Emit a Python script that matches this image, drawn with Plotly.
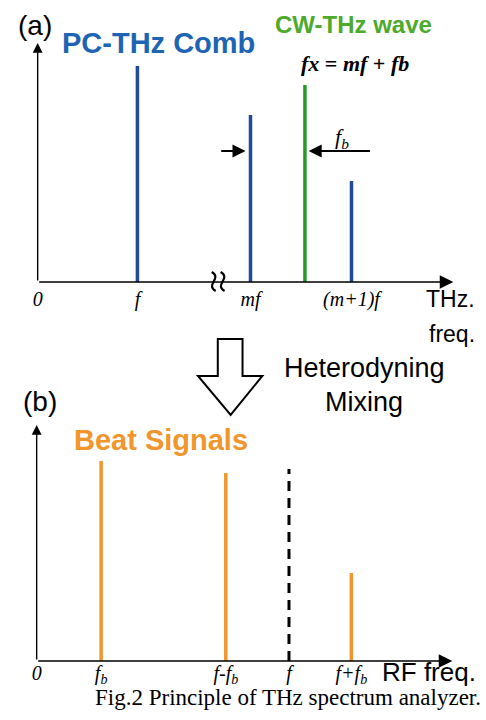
import plotly.graph_objects as go

W, H = 486, 720

# ---------------- data: panel (a) THz spectrum ----------------
comb_pos = [2.40, 5.12, 7.55]          # f, mf, (m+1)f
comb_amp = [9.04, 6.99, 4.23]
cw_pos = [6.43]                         # fx = mf + fb
cw_amp = [8.24]
a_tick_vals = [0, 2.40, 5.12, 7.55]
a_tick_text = ["<i>0</i>", "<i>f</i>", "<i>mf</i>", "<i>(m+1)f</i>"]
break_pos = 4.33

# ---------------- data: panel (b) RF beat spectrum ----------------
beat_pos = [1.55, 4.55, 7.57]          # fb, f-fb, f+fb
beat_amp = [8.47, 7.97, 3.73]
rep_pos = [6.07]                        # f (dashed)
rep_amp = [8.14]
b_tick_vals = [0, 1.55, 4.55, 6.07, 7.57]
b_tick_text = ["<i>0</i>", "<i>f<sub>b</sub></i>", "<i>f-f<sub>b</sub></i>",
               "<i>f</i>", "<i>f+f<sub>b</sub></i>"]

BLUE = "#23499b"
BLUE_TXT = "#1e64b4"
GREEN = "#1f9b2a"
GREEN_TXT = "#4daa2b"
ORANGE = "#f0962c"
SERIF = "Liberation Serif"
SANS = "Liberation Sans"

# panel geometry in pixels
A_X0, A_X1, A_Y0, A_Y1 = 33, 453, 282, 43
B_X0, B_X1, B_Y0, B_Y1 = 32, 452, 661, 425


def stems(xs, ys):
    X, Y = [], []
    for x, y in zip(xs, ys):
        X += [x, x, None]
        Y += [0, y, None]
    return X, Y


def px(x):
    return x / W


def py(y):
    return 1 - y / H


fig = go.Figure()
x, y = stems(comb_pos, comb_amp)
fig.add_trace(go.Scatter(x=x, y=y, mode="lines", line=dict(color=BLUE, width=3.5),
                         xaxis="x", yaxis="y", hoverinfo="skip"))
x, y = stems(cw_pos, cw_amp)
fig.add_trace(go.Scatter(x=x, y=y, mode="lines", line=dict(color=GREEN, width=3.5),
                         xaxis="x", yaxis="y", hoverinfo="skip"))
x, y = stems(beat_pos, beat_amp)
fig.add_trace(go.Scatter(x=x, y=y, mode="lines", line=dict(color=ORANGE, width=3.5),
                         xaxis="x2", yaxis="y2", hoverinfo="skip"))
x, y = stems(rep_pos, rep_amp)
fig.add_trace(go.Scatter(x=x, y=y, mode="lines", line=dict(color="black", width=3, dash="10px,7px"),
                         xaxis="x2", yaxis="y2", hoverinfo="skip"))

ann = []
# axes arrows
for xr, yr in (("x", "y"), ("x2", "y2")):
    ann.append(dict(x=10, y=0, ax=0, ay=0, xref=xr, yref=yr, axref=xr, ayref=yr,
                    text="", showarrow=True, arrowhead=2, arrowsize=1.7, arrowwidth=1.6,
                    arrowcolor="black"))
    ann.append(dict(x=0, y=10, ax=0, ay=0, xref=xr, yref=yr, axref=xr, ayref=yr,
                    text="", showarrow=True, arrowhead=2, arrowsize=1.4, arrowwidth=1.4,
                    arrowcolor="black"))
# fb arrows in panel (a)
arrow_y = 5.48
ann.append(dict(x=comb_pos[1] - 0.12, y=arrow_y, ax=comb_pos[1] - 0.74, ay=arrow_y,
                xref="x", yref="y", axref="x", ayref="y", text="", showarrow=True,
                arrowhead=2, arrowsize=1.3, arrowwidth=2, arrowcolor="black"))
ann.append(dict(x=cw_pos[0] + 0.09, y=arrow_y, ax=cw_pos[0] + 1.6, ay=arrow_y,
                xref="x", yref="y", axref="x", ayref="y", text="", showarrow=True,
                arrowhead=2, arrowsize=1.3, arrowwidth=2, arrowcolor="black"))
ann.append(dict(x=(cw_pos[0] + 0.88), y=arrow_y + 0.55, xref="x", yref="y",
                text="<i>f<sub>b</sub></i>", showarrow=False,
                font=dict(family=SERIF, size=22, color="black")))


def txt(s, x, y, size, color="black", family=SANS, xanchor="center"):
    ann.append(dict(x=px(x), y=py(y), xref="paper", yref="paper", text=s, showarrow=False,
                    xanchor=xanchor, yanchor="middle",
                    font=dict(family=family, size=size, color=color)))


txt("(a)", 30, 26, 28)
txt("<b>PC-THz Comb</b>", 155, 43, 29, BLUE_TXT)
txt("<b>CW-THz wave</b>", 352, 25, 24, GREEN_TXT)
txt("<b><i>fx</i> = <i>mf</i> + <i>fb</i></b>", 354, 63, 22, family=SERIF)
txt("THz.", 477, 299, 23, xanchor="right")
txt("freq.", 477, 334, 23, xanchor="right")
txt("Heterodyning", 363, 368, 27)
txt("Mixing", 363, 402, 27)
txt("(b)", 35, 401, 28)
txt("<b>Beat Signals</b>", 158, 440, 29, ORANGE)
txt("RF freq.", 478, 672, 26, xanchor="right")
txt("Fig.2 Principle of THz spectrum analyzer.", 286, 697, 23, family=SERIF)

shapes = []
# big hollow arrow between panels
hol = [(215, 339), (240, 339), (240, 376), (260, 376), (228, 415), (195, 376), (215, 376)]
path = "M " + " L ".join(f"{px(a):.5f},{py(b):.5f}" for a, b in hol) + " Z"
shapes.append(dict(type="path", path=path, xref="paper", yref="paper",
                   line=dict(color="black", width=2), fillcolor="white"))
# axis break squiggles
bx = A_X0 + (A_X1 - A_X0) * break_pos / 10
for dx in (-4, 5):
    cx = bx + dx
    pts = [(cx - 2, A_Y0 - 10), (cx + 9, A_Y0 - 4), (cx - 9, A_Y0 + 3), (cx + 2, A_Y0 + 9)]
    p = "M {:.5f},{:.5f} C {:.5f},{:.5f} {:.5f},{:.5f} {:.5f},{:.5f}".format(
        *[v for a, b in pts for v in (px(a), py(b))])
    shapes.append(dict(type="path", path=p, xref="paper", yref="paper",
                       line=dict(color="black", width=2.2)))

axis_common = dict(showgrid=False, zeroline=False, showline=False, ticks="", range=[0, 10],
                   tickfont=dict(family=SERIF, size=20, color="black"), fixedrange=True)
fig.update_layout(
    width=W, height=H, margin=dict(l=0, r=0, t=0, b=0),
    paper_bgcolor="white", plot_bgcolor="rgba(0,0,0,0)", showlegend=False,
    xaxis=dict(domain=[A_X0 / W, A_X1 / W], anchor="y", tickvals=a_tick_vals,
               ticktext=a_tick_text, ticklabelstandoff=3, **axis_common),
    yaxis=dict(domain=[py(A_Y0), py(A_Y1)], anchor="x", showticklabels=False, **axis_common),
    xaxis2=dict(domain=[B_X0 / W, B_X1 / W], anchor="y2", tickvals=b_tick_vals,
                ticktext=b_tick_text, ticklabelstandoff=-2, **axis_common),
    yaxis2=dict(domain=[py(B_Y0), py(B_Y1)], anchor="x2", showticklabels=False, **axis_common),
    annotations=ann, shapes=shapes,
)
fig.write_html("out.html", config={"displayModeBar": False},
               post_script="document.body.style.margin='0px';")
